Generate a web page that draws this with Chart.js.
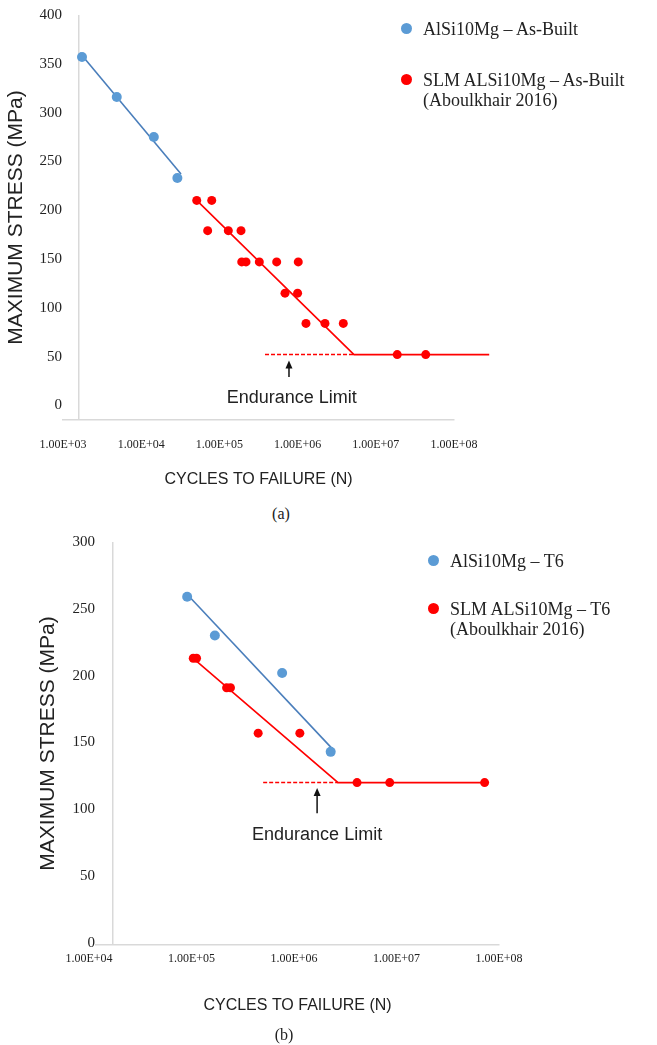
<!DOCTYPE html>
<html>
<head>
<meta charset="utf-8">
<script src="https://cdn.jsdelivr.net/npm/chart.js@4.4.1/dist/chart.umd.min.js"></script>
<style>
  body { margin: 0; background: #fff; width: 657px; height: 1045px; position: relative; overflow: hidden;
         font-family: "Liberation Serif", "Times New Roman", serif; color: #222; }
  canvas { position: absolute; left: 0; }
  #chartA { top: 0; }
  #chartB { top: 530px; }
  .lg { position: absolute; font-size: 18px; line-height: 20px; white-space: nowrap; }
  .dot { position: absolute; width: 11px; height: 11px; border-radius: 50%; }
  .cap { position: absolute; width: 100px; text-align: center; font-size: 16px; line-height: 20px; }
</style>
</head>
<body>
<canvas id="chartA" width="657" height="500"></canvas>
<canvas id="chartB" width="657" height="515"></canvas>

<!-- legends -->
<span class="dot" style="left:401px;top:23px;background:#5b9bd5"></span>
<div class="lg" style="left:423px;top:19px">AlSi10Mg – As-Built</div>
<span class="dot" style="left:401px;top:74px;background:#ff0000"></span>
<div class="lg" style="left:423px;top:70px">SLM ALSi10Mg – As-Built<br>(Aboulkhair 2016)</div>

<span class="dot" style="left:428px;top:555px;background:#5b9bd5"></span>
<div class="lg" style="left:450px;top:551px">AlSi10Mg – T6</div>
<span class="dot" style="left:428px;top:603px;background:#ff0000"></span>
<div class="lg" style="left:450px;top:599px">SLM ALSi10Mg – T6<br>(Aboulkhair 2016)</div>

<div class="cap" style="left:231px;top:504px">(a)</div>
<div class="cap" style="left:234px;top:1025px">(b)</div>

<script>
/* ---------- DATA (a) As-Built ---------- */
const X_TICKS_A = [1e3, 1e4, 1e5, 1e6, 1e7, 1e8];
const X_LABELS_A = ["1.00E+03", "1.00E+04", "1.00E+05", "1.00E+06", "1.00E+07", "1.00E+08"];
const Y_TICKS_A = [0, 50, 100, 150, 200, 250, 300, 350, 400];

const BLUE_N_A = [1750, 4870, 14500, 29000];
const BLUE_S_A = [357, 316, 275, 233];
const BLUE_FIT_N_A = [1650, 32300];
const BLUE_FIT_S_A = [361, 237];

const RED_N_A = [51300, 79800, 70800, 130000, 189000, 193000, 219000, 324000, 540000,
  1020000, 690000, 1000000, 1280000, 2240000, 3840000, 18800000, 43500000, 282000000];
const RED_S_A = [210, 210, 179, 179, 179, 147, 147, 147, 147,
  147, 115, 115, 84, 84, 84, 52, 52, 52];
const RED_FIT_N_A = [51300, 5260000, 282000000];
const RED_FIT_S_A = [210, 52, 52];
const LIMIT_N_A = [383000, 5260000];
const LIMIT_S_A = [52, 52];

/* ---------- DATA (b) T6 ---------- */
const X_TICKS_B = [1e4, 1e5, 1e6, 1e7, 1e8];
const X_LABELS_B = ["1.00E+04", "1.00E+05", "1.00E+06", "1.00E+07", "1.00E+08"];
const Y_TICKS_B = [0, 50, 100, 150, 200, 250, 300];

const BLUE_N_B = [90700, 169000, 766000, 2280000];
const BLUE_S_B = [259, 230, 202, 143];
const BLUE_FIT_N_B = [92900, 2320000];
const BLUE_FIT_S_B = [260, 146];

const RED_N_B = [104000, 112000, 220000, 240000, 447000, 1140000, 4120000, 8590000, 72400000];
const RED_S_B = [213, 213, 191, 191, 157, 157, 120, 120, 120];
const RED_FIT_N_B = [104000, 2690000, 72400000];
const RED_FIT_S_B = [213, 120, 120];
const LIMIT_N_B = [500000, 2690000];
const LIMIT_S_B = [120, 120];

/* ---------- HELPERS ---------- */
const SERIF = '"Liberation Serif", "Times New Roman", serif';
const SANS = '"Liberation Sans", Arial, sans-serif';
const AXIS_GRAY = "#d9d9d9";

const pts = (ns, ss) => ns.map((n, i) => ({ x: n, y: ss[i] }));

/* arrow + "Endurance Limit" text, placed through the scales */
const annotate = {
  id: "annotate",
  afterDatasetsDraw(chart, args, o) {
    const { ctx, scales } = chart;
    const ax = scales.x.getPixelForValue(o.arrowN);
    const tail = scales.y.getPixelForValue(o.arrowFrom);
    const head = scales.y.getPixelForValue(o.arrowTo);
    ctx.save();
    ctx.strokeStyle = "#111";
    ctx.fillStyle = "#111";
    ctx.lineWidth = 1.5;
    ctx.beginPath();
    ctx.moveTo(ax, tail);
    ctx.lineTo(ax, head + 6);
    ctx.stroke();
    ctx.beginPath();
    ctx.moveTo(ax, head);
    ctx.lineTo(ax - 3.5, head + 8);
    ctx.lineTo(ax + 3.5, head + 8);
    ctx.closePath();
    ctx.fill();
    ctx.font = "18px " + SANS;
    ctx.fillStyle = "#222";
    ctx.textAlign = "center";
    ctx.textBaseline = "middle";
    ctx.fillText(o.text, scales.x.getPixelForValue(o.textN), scales.y.getPixelForValue(o.textS));
    ctx.restore();
  },
};

function makeChart(id, c) {
  return new Chart(document.getElementById(id), {
    type: "scatter",
    data: {
      datasets: [
        { data: pts(c.blueN, c.blueS), backgroundColor: "#5b9bd5", pointRadius: 5, borderWidth: 0, clip: false },
        { data: pts(c.redN, c.redS), backgroundColor: "#ff0000", pointRadius: 4.5, borderWidth: 0, clip: false },
        { data: pts(c.blueFitN, c.blueFitS), showLine: true, borderColor: "#4a7ebb", borderWidth: 1.6, pointRadius: 0, clip: false },
        { data: pts(c.redFitN, c.redFitS), showLine: true, borderColor: "#ff0000", borderWidth: 1.6, pointRadius: 0, clip: false },
        { data: pts(c.limitN, c.limitS), showLine: true, borderColor: "#ff0000", borderWidth: 1.5, borderDash: [4, 2], pointRadius: 0, clip: false },
      ],
    },
    options: {
      responsive: false,
      animation: false,
      layout: { padding: { top: c.padTop, right: c.padRight, left: 0, bottom: 0 } },
      plugins: {
        legend: { display: false },
        tooltip: { enabled: false },
        annotate: c.note,
      },
      scales: {
        x: {
          type: "logarithmic",
          min: c.xMin,
          max: c.xTicks[c.xTicks.length - 1],
          afterBuildTicks: (s) => { s.ticks = c.xTicks.concat([c.cross]).map((v) => ({ value: v })); },
          afterFit: (s) => { s.height = c.xHeight; },
          border: { display: true, color: AXIS_GRAY, width: 1.5 },
          grid: {
            drawTicks: false,
            lineWidth: 1.5,
            color: (g) => (g.tick && g.tick.value === c.cross ? AXIS_GRAY : "rgba(0,0,0,0)"),
          },
          ticks: {
            autoSkip: false,
            maxRotation: 0,
            padding: c.xTickPad,
            color: "#222",
            font: { family: SERIF, size: 12 },
            callback: (v) => c.xLabels[c.xTicks.indexOf(v)] || "",
          },
          title: {
            display: true,
            text: "CYCLES TO FAILURE (N)",
            color: "#222",
            font: { family: SANS, size: 16 },
            padding: { top: 0, bottom: c.xTitlePad },
          },
        },
        y: {
          min: c.yMin,
          max: c.yTicks[c.yTicks.length - 1],
          afterBuildTicks: (s) => { s.ticks = c.yTicks.map((v) => ({ value: v })); },
          afterFit: (s) => { s.width = c.yWidth; },
          border: { display: false },
          grid: { display: false, drawTicks: false },
          ticks: { padding: 1, color: "#222", font: { family: SERIF, size: 15 } },
          title: {
            display: true,
            text: "MAXIMUM STRESS (MPa)",
            color: "#222",
            font: { family: SANS, size: 21 },
            padding: { top: c.yTitlePad, bottom: 0 },
          },
        },
      },
    },
    plugins: [annotate],
  });
}

/* ---------- CHART (a) ---------- */
makeChart("chartA", {
  xTicks: X_TICKS_A, xLabels: X_LABELS_A, yTicks: Y_TICKS_A,
  blueN: BLUE_N_A, blueS: BLUE_S_A, blueFitN: BLUE_FIT_N_A, blueFitS: BLUE_FIT_S_A,
  redN: RED_N_A, redS: RED_S_A, redFitN: RED_FIT_N_A, redFitS: RED_FIT_S_A,
  limitN: LIMIT_N_A, limitS: LIMIT_S_A,
  xMin: 1e3, cross: 1600, yMin: -15,
  padTop: 15, padRight: 203, yWidth: 63, xHeight: 80,
  xTickPad: 18, xTitlePad: 11, yTitlePad: 4,
  note: { arrowN: 776000, arrowFrom: 29, arrowTo: 46, text: "Endurance Limit", textN: 840000, textS: 7 },
});

/* ---------- CHART (b) ---------- */
makeChart("chartB", {
  xTicks: X_TICKS_B, xLabels: X_LABELS_B, yTicks: Y_TICKS_B,
  blueN: BLUE_N_B, blueS: BLUE_S_B, blueFitN: BLUE_FIT_N_B, blueFitS: BLUE_FIT_S_B,
  redN: RED_N_B, redS: RED_S_B, redFitN: RED_FIT_N_B, redFitS: RED_FIT_S_B,
  limitN: LIMIT_N_B, limitS: LIMIT_S_B,
  xMin: 11700, cross: 17100, yMin: -1.5,
  padTop: 12, padRight: 158, yWidth: 96, xHeight: 100,
  xTickPad: 7, xTitlePad: 30, yTitlePad: 36,
  note: { arrowN: 1680000, arrowFrom: 97, arrowTo: 116, text: "Endurance Limit", textN: 1680000, textS: 81 },
});
</script>
</body>
</html>
